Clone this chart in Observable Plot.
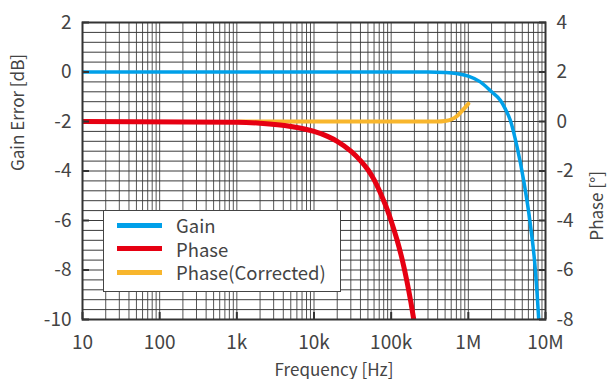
<!DOCTYPE html>
<html>
<head>
<meta charset="utf-8">
<script src="https://cdn.jsdelivr.net/npm/d3@7"></script>
<script src="https://cdn.jsdelivr.net/npm/@observablehq/plot@0.6"></script>
<style>
  html, body { margin: 0; padding: 0; background: #fff; }
  #wrap { position: relative; width: 609px; height: 379px; overflow: hidden;
          font-family: "Noto Sans CJK JP", "Noto Sans", sans-serif; color: #444; }
  #legend { position: absolute; left: 103px; top: 210px; width: 236px; height: 80px;
            border: 1.5px solid #444; background: #fff; }
  .row { position: absolute; left: 0; height: 22px; }
  .sw { position: absolute; left: 13px; width: 45px; height: 5px; }
  .lt { position: absolute; left: 72px; top: 0; font-size: 18.5px; line-height: 22px; white-space: nowrap; color: #444; }
</style>
</head>
<body>
<div id="wrap"></div>
<script>
// ---- data ----
const gainFreq = [10, 1e3, 1e5, 3e5, 5e5, 7e5, 1e6, 1.43e6, 2e6, 2.6e6, 3e6, 3.5e6, 4.28e6, 5.21e6, 6.36e6, 7.39e6, 8.17e6, 8.8e6];
const gainDb   = [0, 0, 0, 0, -0.02, -0.06, -0.17, -0.40, -0.8, -1.14, -1.48, -1.95, -3.03, -4.38, -6.15, -8.0, -10.0, -12.0];

const phaseFreq = [10, 1e3, 2e3, 5e3, 1e4, 1.5e4, 2e4, 3e4, 4e4, 5e4, 6e4, 7e4, 8e4, 9e4, 1e5, 1.2e5, 1.4e5, 1.6e5, 1.8e5, 1.95e5, 2.1e5];
const phaseDeg  = [0, -0.03, -0.07, -0.2, -0.4, -0.6, -0.8, -1.2, -1.58, -1.95, -2.35, -2.78, -3.2, -3.6, -4.02, -4.82, -5.62, -6.45, -7.3, -7.95, -8.6];

const corrFreq = [1e3, 1e4, 1e5, 4e5, 5e5, 6e5, 7e5, 8e5, 9e5, 1e6];
const corrDeg  = [0, 0, 0, 0, 0.02, 0.08, 0.2, 0.38, 0.55, 0.72];

const xTicks = [10, 100, 1e3, 1e4, 1e5, 1e6, 1e7];
const xTickLabels = ["10", "100", "1k", "10k", "100k", "1M", "10M"];
const gainTicks = [-10, -8, -6, -4, -2, 0, 2];
const phaseTickLabels = ["-8", "-6", "-4", "-2", "0", "2", "4"];

const seriesNames = ["Gain", "Phase", "Phase(Corrected)"];
const seriesColors = ["#00a0e9", "#e60012", "#f8b62d"];

// phase axis (right) is offset by +2 from gain axis (left)
const phaseOffset = 2;

const gain = gainFreq.map((f, i) => ({f, v: gainDb[i]}));
const phase = phaseFreq.map((f, i) => ({f, v: phaseDeg[i] - phaseOffset}));
const corr = corrFreq.map((f, i) => ({f, v: corrDeg[i] - phaseOffset}));

// grid lines
const xGrid = [];
for (let d = 10; d < 1e7; d *= 10) for (let m = 1; m < 10; m++) xGrid.push(d * m);
xGrid.push(1e7);
const yGrid = d3.range(0, 31).map(i => -10 + i * 0.4);

const fontFamily = '"Noto Sans CJK JP", "Noto Sans", sans-serif';
const textColor = "#444";

const chart = Plot.plot({
  width: 609, height: 379,
  marginLeft: 82, marginRight: 64, marginTop: 22, marginBottom: 60,
  style: {fontFamily, fontSize: "19px", color: textColor, background: "#fff"},
  x: {type: "log", domain: [10, 1e7]},
  y: {domain: [-10, 2]},
  marks: [
    Plot.ruleX(xGrid, {stroke: "#555", strokeWidth: 1}),
    Plot.ruleY(yGrid, {stroke: "#3a3a3a", strokeWidth: 1}),
    Plot.line(gain, {x: "f", y: "v", stroke: seriesColors[0], strokeWidth: 3.5, curve: "monotone-x", clip: true}),
    Plot.line(corr, {x: "f", y: "v", stroke: seriesColors[2], strokeWidth: 4, curve: "monotone-x", clip: true}),
    Plot.line(phase, {x: "f", y: "v", stroke: seriesColors[1], strokeWidth: 5, curve: "monotone-x", clip: true}),
    Plot.frame({stroke: "#333", strokeWidth: 2}),
    Plot.axisY(gainTicks, {anchor: "left", tickSize: -7, tickPadding: 18, stroke: "#333", strokeWidth: 2,
      tickFormat: d => String(d), label: null, fill: textColor}),
    Plot.axisY(gainTicks, {anchor: "right", tickSize: -7, tickPadding: 18, stroke: "#333", strokeWidth: 2,
      tickFormat: d => phaseTickLabels[gainTicks.indexOf(d)], label: null, fill: textColor}),
    Plot.axisX(xTicks, {anchor: "bottom", tickSize: -7, tickPadding: 23, stroke: "#333", strokeWidth: 2,
      tickFormat: d => xTickLabels[xTicks.indexOf(d)], label: null, fill: textColor}),
    Plot.text(["Frequency [Hz]"], {frameAnchor: "bottom", dx: 20, dy: 56, fontSize: 17, fill: textColor}),
    Plot.text(["Gain Error [dB]"], {frameAnchor: "left", dx: -64, rotate: -90, fontSize: 17, fill: textColor}),
    Plot.text(["Phase [°]"], {frameAnchor: "right", dx: 52, rotate: -90, fontSize: 17, fill: textColor})
  ]
});

const wrap = document.getElementById("wrap");
wrap.appendChild(chart);

// legend
const legend = document.createElement("div");
legend.id = "legend";
seriesNames.forEach((name, i) => {
  const row = document.createElement("div");
  row.className = "row";
  row.style.top = (3 + i * 23.5) + "px";
  const sw = document.createElement("div");
  sw.className = "sw";
  sw.style.background = seriesColors[i];
  sw.style.top = "8.5px";
  const lt = document.createElement("div");
  lt.className = "lt";
  lt.textContent = name;
  row.appendChild(sw);
  row.appendChild(lt);
  legend.appendChild(row);
});
wrap.appendChild(legend);
</script>
</body>
</html>
